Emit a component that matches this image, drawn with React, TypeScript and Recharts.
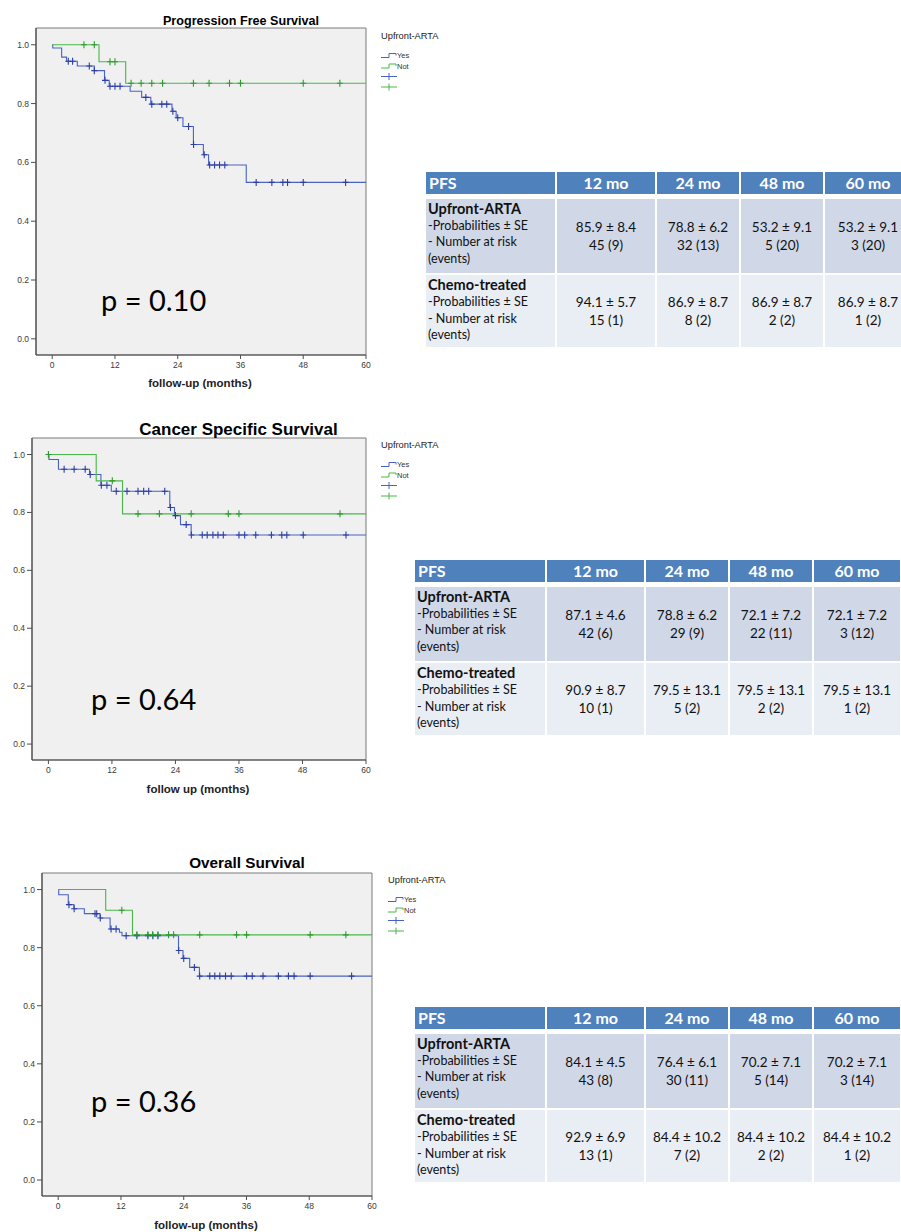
import React from 'react';
import { CartesianGrid, ComposedChart, Line, ReferenceArea, Scatter, XAxis, YAxis } from 'recharts';

// axes shared by all three Kaplan-Meier plots
const xTicks = [0, 12, 24, 36, 48, 60];
const yTicks = [0, 0.2, 0.4, 0.6, 0.8, 1];
const xDomain: [number, number] = [-3.1, 60];
const yDomain: [number, number] = [-0.055, 1.057];

// Progression free survival
const pfsYesTimes = [0, 0.1, 1.8, 2.75, 4.8, 8.05, 10.0, 10.9, 14.9, 17.1, 18.85, 22.9, 23.7, 25.0, 27.0, 28.9, 29.9, 37.1, 60];
const pfsYesSurv = [1, 0.989, 0.958, 0.944, 0.928, 0.912, 0.879, 0.859, 0.842, 0.821, 0.798, 0.774, 0.752, 0.722, 0.661, 0.626, 0.591, 0.532, 0.532];
const pfsYesCensored = [3.07, 3.9, 7.09, 8.05, 10.1, 11.05, 12.0, 12.97, 17.9, 19.04, 20.96, 21.9, 23.07, 24.0, 26.07, 27.03, 29.07, 30.1, 31.05, 32.0, 33.0, 39.0, 42.0, 44.1, 45.0, 48.0, 56.1];
const pfsNotTimes = [0, 8.95, 14.05, 60];
const pfsNotSurv = [1, 0.942, 0.869, 0.869];
const pfsNotCensored = [6.07, 8.05, 11.05, 12.0, 15.08, 17.0, 19.04, 21.1, 27.0, 30.0, 33.9, 36.0, 48.0, 55.0];

// Cancer specific survival
const cssYesTimes = [0, 0.1, 1.9, 7.77, 9.92, 11.88, 22.93, 23.82, 24.95, 26.97, 60];
const cssYesSurv = [1, 0.983, 0.949, 0.931, 0.894, 0.873, 0.817, 0.789, 0.758, 0.722, 0.722];
const cssYesCensored = [2.97, 4.86, 6.95, 7.9, 10.0, 11.05, 12.82, 14.85, 16.93, 18.0, 18.95, 21.98, 23.06, 24.0, 26.03, 27.0, 29.06, 30.0, 31.08, 32.03, 33.04, 36.0, 37.08, 39.17, 42.13, 44.09, 45.04, 48.14, 56.22];
const cssNotTimes = [0, 9.03, 14.0, 60];
const cssNotSurv = [1, 0.909, 0.795, 0.795];
const cssNotCensored = [0, 12.07, 16.93, 20.97, 26.97, 33.99, 36.0, 55.08];

// Overall survival
const osYesTimes = [0, 0.1, 1.92, 3.0, 5.0, 8.0, 9.92, 11.7, 12.2, 23.0, 23.86, 25.14, 27.0, 60];
const osYesSurv = [1, 0.982, 0.948, 0.934, 0.917, 0.902, 0.864, 0.853, 0.841, 0.79, 0.763, 0.732, 0.702, 0.702];
const osYesCensored = [2.05, 3.05, 7.04, 7.36, 8.05, 10.1, 11.07, 12.99, 15.04, 17.15, 18.1, 19.07, 23.05, 24.0, 26.04, 27.05, 28.98, 29.94, 30.9, 31.99, 33.08, 36.02, 37.1, 39.16, 42.1, 44.02, 45.1, 48.18, 56.1];
const osNotTimes = [0, 9.08, 14.2, 60];
const osNotSurv = [1, 0.929, 0.844, 0.844];
const osNotCensored = [12.16, 15.04, 17.15, 18.04, 19.07, 21.1, 22.07, 27.06, 34.1, 36.02, 48.18, 55.0];

// tables
const tableColumns = ['12 mo', '24 mo', '48 mo', '60 mo'];
const pfsArtaProb = ['85.9 ± 8.4', '78.8 ± 6.2', '53.2 ± 9.1', '53.2 ± 9.1'];
const pfsArtaRisk = ['45 (9)', '32 (13)', '5 (20)', '3 (20)'];
const pfsChemoProb = ['94.1 ± 5.7', '86.9 ± 8.7', '86.9 ± 8.7', '86.9 ± 8.7'];
const pfsChemoRisk = ['15 (1)', '8 (2)', '2 (2)', '1 (2)'];
const cssArtaProb = ['87.1 ± 4.6', '78.8 ± 6.2', '72.1 ± 7.2', '72.1 ± 7.2'];
const cssArtaRisk = ['42 (6)', '29 (9)', '22 (11)', '3 (12)'];
const cssChemoProb = ['90.9 ± 8.7', '79.5 ± 13.1', '79.5 ± 13.1', '79.5 ± 13.1'];
const cssChemoRisk = ['10 (1)', '5 (2)', '2 (2)', '1 (2)'];
const osArtaProb = ['84.1 ± 4.5', '76.4 ± 6.1', '70.2 ± 7.1', '70.2 ± 7.1'];
const osArtaRisk = ['43 (8)', '30 (11)', '5 (14)', '3 (14)'];
const osChemoProb = ['92.9 ± 6.9', '84.4 ± 10.2', '84.4 ± 10.2', '84.4 ± 10.2'];
const osChemoRisk = ['13 (1)', '7 (2)', '2 (2)', '1 (2)'];

const BLUE = '#4a62c4';
const BLUE_MARK = '#2c3ea6';
const GREEN = '#48b848';
const GREEN_MARK = '#2f9a2f';
const ARIAL = '"Liberation Sans", Arial, sans-serif';
const CALIBRI = 'Lato, "Open Sans", sans-serif';

type Point = { t: number; s: number };

function steps(times: number[], surv: number[]): Point[] {
  return times.map((t, i) => ({ t, s: surv[i] }));
}

function survivalAt(times: number[], surv: number[], t: number) {
  let value = surv[0];
  times.forEach((time, i) => {
    if (time <= t) value = surv[i];
  });
  return value;
}

function censored(times: number[], surv: number[], cens: number[]): Point[] {
  return cens.map((t) => ({ t, s: survivalAt(times, surv, t) }));
}

function CensorMark({ cx, cy, color }: { cx?: number; cy?: number; color: string }) {
  if (cx == null || cy == null) return null;
  return <path d={`M${cx - 3},${cy}H${cx + 3}M${cx},${cy - 3.5}V${cy + 3.5}`} stroke={color} strokeWidth={1.1} fill="none" />;
}

interface Box {
  left: number;
  top: number;
  width: number;
  height: number;
  yAxisWidth: number;
  marginTop: number;
  marginRight: number;
}

function KmChart({
  box,
  yes,
  yesCens,
  not,
  notCens,
}: {
  box: Box;
  yes: Point[];
  yesCens: Point[];
  not: Point[];
  notCens: Point[];
}) {
  const tickStyle = { fontSize: 8.5, fill: '#3a3a3a', fontFamily: ARIAL };
  return (
    <div style={{ position: 'absolute', left: box.left, top: box.top }}>
      <ComposedChart
        width={box.width}
        height={box.height}
        margin={{ top: box.marginTop, right: box.marginRight, bottom: 0, left: 0 }}
      >
        <CartesianGrid horizontal={false} vertical={false} fill="#f0f0f0" />
        <XAxis
          type="number"
          dataKey="t"
          domain={xDomain}
          allowDataOverflow
          ticks={xTicks}
          height={30}
          tickSize={4}
          tickMargin={3}
          tick={tickStyle}
          axisLine={{ stroke: '#4d4d4d', strokeWidth: 1.2 }}
          tickLine={{ stroke: '#4d4d4d' }}
        />
        <YAxis
          type="number"
          dataKey="s"
          domain={yDomain}
          allowDataOverflow
          ticks={yTicks}
          tickFormatter={(v: number) => v.toFixed(1)}
          width={box.yAxisWidth}
          tickSize={5}
          tickMargin={2}
          tick={tickStyle}
          axisLine={{ stroke: '#4d4d4d', strokeWidth: 1.2 }}
          tickLine={{ stroke: '#4d4d4d' }}
        />
        <ReferenceArea
          x1={xDomain[0]}
          x2={xDomain[1]}
          y1={yDomain[0]}
          y2={yDomain[1]}
          fill="none"
          fillOpacity={0}
          stroke="#7a7a7a"
          strokeWidth={1}
        />
        <Line data={yes} dataKey="s" type="stepAfter" stroke={BLUE} strokeWidth={1.1} dot={false} isAnimationActive={false} />
        <Line data={not} dataKey="s" type="stepAfter" stroke={GREEN} strokeWidth={1.1} dot={false} isAnimationActive={false} />
        <Scatter
          data={yesCens}
          dataKey="s"
          isAnimationActive={false}
          shape={(props: any) => <CensorMark cx={props.cx} cy={props.cy} color={BLUE_MARK} />}
        />
        <Scatter
          data={notCens}
          dataKey="s"
          isAnimationActive={false}
          shape={(props: any) => <CensorMark cx={props.cx} cy={props.cy} color={GREEN_MARK} />}
        />
      </ComposedChart>
    </div>
  );
}

function Legend({ x, y }: { x: number; y: number }) {
  const rows = [y + 19.5, y + 30, y + 40.5, y + 51];
  const step = (cy: number) => `M${x},${cy + 2}H${x + 8}V${cy - 2}H${x + 15}V${cy}`;
  return (
    <g>
      <text x={x} y={y + 3.3} fontSize={9.3} fontFamily={ARIAL} fill="#222">
        Upfront-ARTA
      </text>
      <path d={step(rows[0])} stroke={BLUE} fill="none" strokeWidth={1} />
      <text x={x + 16} y={rows[0] + 2.6} fontSize={7.5} fontFamily={ARIAL} fill="#333">
        Yes
      </text>
      <path d={step(rows[1])} stroke={GREEN} fill="none" strokeWidth={1} />
      <text x={x + 16} y={rows[1] + 2.6} fontSize={7.5} fontFamily={ARIAL} fill="#333">
        Not
      </text>
      <path d={`M${x},${rows[2]}H${x + 16}M${x + 8},${rows[2] - 3.5}V${rows[2] + 3.5}`} stroke={BLUE} strokeWidth={1} />
      <path d={`M${x},${rows[3]}H${x + 16}M${x + 8},${rows[3] - 3.5}V${rows[3] + 3.5}`} stroke={GREEN} strokeWidth={1} />
    </g>
  );
}

function SurvTable({
  left,
  top,
  widths,
  artaProb,
  artaRisk,
  chemoProb,
  chemoRisk,
}: {
  left: number;
  top: number;
  widths: number[];
  artaProb: string[];
  artaRisk: string[];
  chemoProb: string[];
  chemoRisk: string[];
}) {
  const lefts = widths.map((_, i) => left + widths.slice(0, i).reduce((a, b) => a + b + 2, 0));
  const rows = [
    { top, h: 21.5, bg: '#4f81bd' },
    { top: top + 26.5, h: 74, bg: '#d0d8e8' },
    { top: top + 103, h: 72, bg: '#e9edf4' },
  ];
  const cell = (i: number, r: number, content: React.ReactNode, align: 'left' | 'center') => (
    <div
      key={`${i}-${r}`}
      style={{
        position: 'absolute',
        left: lefts[i],
        top: rows[r].top,
        width: widths[i],
        height: rows[r].h,
        background: rows[r].bg,
        display: 'flex',
        flexDirection: 'column',
        justifyContent: r === 0 || align === 'center' ? 'center' : 'flex-start',
        alignItems: align === 'center' ? 'center' : 'flex-start',
        paddingLeft: align === 'left' ? 2 : 0,
        boxSizing: 'border-box',
        fontFamily: CALIBRI,
        color: r === 0 ? '#fff' : '#111',
      }}
    >
      {content}
    </div>
  );
  const label = (title: string) => (
    <>
      <div style={{ fontSize: 14.5, fontWeight: 700, lineHeight: '18px', marginTop: 1 }}>{title}</div>
      <div style={{ fontSize: 12.5, lineHeight: '16.5px' }}>-Probabilities ± SE</div>
      <div style={{ fontSize: 12.5, lineHeight: '16.5px' }}>- Number at risk</div>
      <div style={{ fontSize: 12.5, lineHeight: '16.5px' }}>(events)</div>
    </>
  );
  const values = (a: string, b: string) => (
    <>
      <div style={{ fontSize: 13.5, lineHeight: '18px' }}>{a}</div>
      <div style={{ fontSize: 13.5, lineHeight: '18px' }}>{b}</div>
    </>
  );
  return (
    <>
      {cell(0, 0, <div style={{ fontSize: 16, fontWeight: 700, paddingLeft: 1 }}>PFS</div>, 'left')}
      {tableColumns.map((c, i) => cell(i + 1, 0, <div style={{ fontSize: 16, fontWeight: 700 }}>{c}</div>, 'center'))}
      {cell(0, 1, label('Upfront-ARTA'), 'left')}
      {artaProb.map((p, i) => cell(i + 1, 1, values(p, artaRisk[i]), 'center'))}
      {cell(0, 2, label('Chemo-treated'), 'left')}
      {chemoProb.map((p, i) => cell(i + 1, 2, values(p, chemoRisk[i]), 'center'))}
    </>
  );
}

export default function App() {
  return (
    <div
      style={{
        position: 'absolute',
        left: 0,
        top: 0,
        width: 901,
        height: 1232,
        overflow: 'hidden',
        background: '#fff',
      }}
    >
      <KmChart
        box={{ left: 0, top: 0, width: 380, height: 385, yAxisWidth: 36, marginTop: 28, marginRight: 14 }}
        yes={steps(pfsYesTimes, pfsYesSurv)}
        yesCens={censored(pfsYesTimes, pfsYesSurv, pfsYesCensored)}
        not={steps(pfsNotTimes, pfsNotSurv)}
        notCens={censored(pfsNotTimes, pfsNotSurv, pfsNotCensored)}
      />
      <KmChart
        box={{ left: 0, top: 410, width: 380, height: 380, yAxisWidth: 32, marginTop: 28, marginRight: 14 }}
        yes={steps(cssYesTimes, cssYesSurv)}
        yesCens={censored(cssYesTimes, cssYesSurv, cssYesCensored)}
        not={steps(cssNotTimes, cssNotSurv)}
        notCens={censored(cssNotTimes, cssNotSurv, cssNotCensored)}
      />
      <KmChart
        box={{ left: 0, top: 845, width: 386, height: 381, yAxisWidth: 42, marginTop: 28, marginRight: 14 }}
        yes={steps(osYesTimes, osYesSurv)}
        yesCens={censored(osYesTimes, osYesSurv, osYesCensored)}
        not={steps(osNotTimes, osNotSurv)}
        notCens={censored(osNotTimes, osNotSurv, osNotCensored)}
      />

      <SurvTable
        left={426}
        top={172}
        widths={[129, 98, 82, 82, 86]}
        artaProb={pfsArtaProb}
        artaRisk={pfsArtaRisk}
        chemoProb={pfsChemoProb}
        chemoRisk={pfsChemoRisk}
      />
      <SurvTable
        left={415}
        top={560}
        widths={[130, 97, 82, 82, 86]}
        artaProb={cssArtaProb}
        artaRisk={cssArtaRisk}
        chemoProb={cssChemoProb}
        chemoRisk={cssChemoRisk}
      />
      <SurvTable
        left={415}
        top={1007}
        widths={[130, 97, 82, 82, 86]}
        artaProb={osArtaProb}
        artaRisk={osArtaRisk}
        chemoProb={osChemoProb}
        chemoRisk={osChemoRisk}
      />

      <svg width={901} height={1232} style={{ position: 'absolute', left: 0, top: 0, pointerEvents: 'none' }}>
        <text x={241} y={24.5} textAnchor="middle" fontSize={12.6} fontWeight={700} fontFamily={ARIAL}>
          Progression Free Survival
        </text>
        <text x={238.5} y={435} textAnchor="middle" fontSize={17} fontWeight={700} fontFamily={ARIAL}>
          Cancer Specific Survival
        </text>
        <text x={247} y={867.5} textAnchor="middle" fontSize={15.3} fontWeight={700} fontFamily={ARIAL}>
          Overall Survival
        </text>

        <text x={200} y={387} textAnchor="middle" fontSize={11.5} fontWeight={700} fontFamily={ARIAL} fill="#222">
          follow-up (months)
        </text>
        <text x={198} y={793} textAnchor="middle" fontSize={11.5} fontWeight={700} fontFamily={ARIAL} fill="#222">
          follow up (months)
        </text>
        <text x={206} y={1229} textAnchor="middle" fontSize={11.5} fontWeight={700} fontFamily={ARIAL} fill="#222">
          follow-up (months)
        </text>

        <text x={101} y={310.5} fontSize={29} fontFamily={CALIBRI}>
          p = 0.10
        </text>
        <text x={91} y={710} fontSize={29} fontFamily={CALIBRI}>
          p = 0.64
        </text>
        <text x={91} y={1111.5} fontSize={29} fontFamily={CALIBRI}>
          p = 0.36
        </text>

        <Legend x={381} y={36} />
        <Legend x={381} y={445} />
        <Legend x={388} y={880} />
      </svg>
    </div>
  );
}
